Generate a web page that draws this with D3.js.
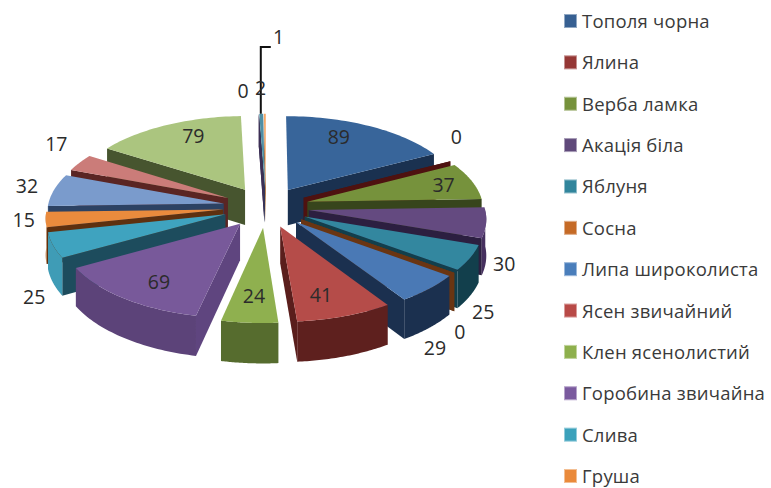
<!DOCTYPE html>
<html><head><meta charset="utf-8">
<script src="https://cdn.jsdelivr.net/npm/d3@7"></script>
<style>html,body{margin:0;background:#fff}svg{display:block}</style></head>
<body><svg id="chart" width="771" height="488"></svg>
<script>
// Species shown in the legend
const categories = ["Тополя чорна","Ялина","Верба ламка","Акація біла","Яблуня","Сосна",
  "Липа широколиста","Ясен звичайний","Клен ясенолистий","Горобина звичайна","Слива","Груша"];
// Counts per species, clockwise from twelve o'clock
const values = [89,0,37,30,25,0,29,41,24,69,25,15,32,17,79,0,2,1];

const topColors = ["#38659a","#7d2a28","#76923c","#644a80","#33879f","#c46a27","#4a79b5","#b54c49",
  "#8fb04f","#78599a","#3fa3bf","#ea8b3d","#7a9bcc","#cb7c79","#abc57f","#9a86b4","#4f8fa5","#f6a765"];
const wallColors = ["#1a3150","#4e1210","#37451c","#2c1f40","#123f4c","#6a3512","#1b304f","#5a1e1c",
  "#566c2e","#5f457f","#1d4c5d","#5e300f","#2c4263","#5a2523","#47552f","#3c2f55","#1d4c5d","#a05a20"];
const rimColors = ["#1a3150","#4e1210","#37451c","#46305f","#123f4c","#6a3512","#1b304f","#5e201e",
  "#566c2e","#5c4379","#3f9cb6","#b26a2e","#5f7fae","#a86461","#47552f","#3c2f55","#1d4c5d","#a05a20"];
const legendColors = ["#376092","#953735","#76923c","#5f497a","#31859c","#c56a26","#4a7ebb","#b84a47",
  "#8eb04d","#7a5a9e","#3ba1bb","#ea8a3b"];

// Pie geometry: a tilted disc under mild perspective, every slice pushed out along its bisector
const cx = 266, cy = 207, radius = 176, tilt = 0.472, eye = 2000, explode = 43, depth = 36;

// Value-label placement: radial factor, then a pixel nudge
const labelPlacement = [[.62,-1,-13],[1.15,-15,-19],[.8,4,-1],[1.15,-9,39],[1.15,-13,47],[1.15,-19,50],[1.15,-16,48],[.62,2,14],
  [.62,-1,11],[.62,-11,13],[1.15,8,47],[1.15,5,-1],[1.15,-2,-3],[1.15,-2,-14],[.62,-2,-13],[1.15,-15,-13],[1.15,0,-16],[1.15,14,-67]];

const svg = d3.select("#chart");
const arcs = d3.pie().sort(null).value(d => d)(values);

function project(theta, r, mid, drop = 0) {
  const X = r * Math.sin(theta) + explode * Math.sin(mid);
  const Y = -r * Math.cos(theta) - explode * Math.cos(mid);
  const s = eye / (eye - Y);
  return [cx + X * s, cy + tilt * Y * s + drop * s];
}
const line = d3.line();
const arcSamples = (a0, a1) => d3.range(0, 41).map(i => a0 + (a1 - a0) * i / 40);

const slices = arcs.map((a, i) => ({...a, i, mid: (a.startAngle + a.endAngle) / 2}))
  .sort((p, q) => Math.cos(q.mid) - Math.cos(p.mid));

const groups = svg.append("g").selectAll("g").data(slices).join("g");

groups.each(function (d) {
  const g = d3.select(this);
  const wall = (a) => [project(a, 0, d.mid), project(a, radius, d.mid),
                       project(a, radius, d.mid, depth), project(a, 0, d.mid, depth)];
  // Radial walls, only those turned towards the viewer
  [[d.startAngle, d.startAngle - Math.PI / 2], [d.endAngle, d.endAngle + Math.PI / 2]].forEach(([a, n]) => {
    if (Math.cos(n) < 0 || d.value === 0)
      g.append("path").attr("d", line(wall(a)) + "Z").attr("fill", wallColors[d.i]);
  });
  // Outer rim, front-facing part
  const front = arcSamples(d.startAngle, d.endAngle).filter(a => Math.cos(a) < 0);
  if (front.length > 1) {
    const upper = front.map(a => project(a, radius, d.mid));
    const lower = front.map(a => project(a, radius, d.mid, depth)).reverse();
    g.append("path").attr("d", line(upper.concat(lower)) + "Z").attr("fill", rimColors[d.i]);
  }
  // Top face
  const pts = [project(0, 0, d.mid)].concat(arcSamples(d.startAngle, d.endAngle).map(a => project(a, radius, d.mid)));
  g.append("path").attr("d", line(pts) + "Z").attr("fill", topColors[d.i]);
});

// Leader line for the smallest slice
const last = slices.find(s => s.i === values.length - 1);
const tip = project(last.mid, radius, last.mid);
svg.append("path")
  .attr("d", line([[tip[0] - 4, tip[1]], [tip[0] - 4, 47], [tip[0] + 6, 47]]))
  .attr("fill", "none").attr("stroke", "#111").attr("stroke-width", 2);

// Value labels
svg.append("g").selectAll("text").data(slices).join("text")
  .attr("transform", d => {
    const [f, dx, dy] = labelPlacement[d.i];
    const p = project(d.mid, radius * f, d.mid);
    return `translate(${p[0] + dx},${p[1] + dy})`;
  })
  .attr("text-anchor", "middle").attr("dominant-baseline", "central")
  .attr("font-family", "'Open Sans', sans-serif").attr("font-size", 19.5).attr("fill", "#2b2b2b")
  .text(d => d.value);

// Legend
const legendY = d3.scalePoint().domain(categories).range([20.5, 475.5]);
const legend = svg.append("g").selectAll("g").data(categories).join("g")
  .attr("transform", d => `translate(564,${legendY(d)})`);
legend.append("rect").attr("x", 0.5).attr("y", -6).attr("width", 12).attr("height", 13)
  .attr("fill", (d, i) => legendColors[i])
  .attr("stroke", (d, i) => d3.interpolateRgb(legendColors[i], "#fff")(0.45));
legend.append("text").attr("x", 18).attr("dominant-baseline", "central")
  .attr("font-family", "'Open Sans', sans-serif").attr("font-size", 18.5).attr("letter-spacing", 0.22).attr("fill", "#3a3a3a")
  .text(d => d);
</script></body></html>
